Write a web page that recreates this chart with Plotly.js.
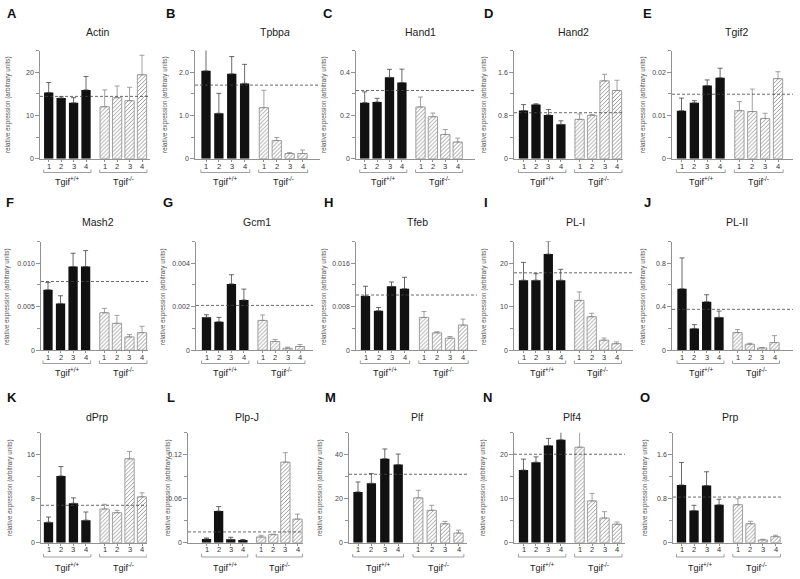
<!DOCTYPE html>
<html><head><meta charset="utf-8">
<script src="https://cdn.plot.ly/plotly-3.0.1.min.js"></script>
<style>body{margin:0;background:#fff}#chart{width:800px;height:579px}</style>
</head><body><div id="chart"></div>
<script>
// ---------- DATA ----------
const letters = ['A','B','C','D','E','F','G','H','I','J','K','L','M','N','O'];
const genes = ['Actin','Tpbp<i>a</i>','Hand1','Hand2','Tgif2','Mash2','Gcm1','Tfeb','PL-I','PL-II','dPrp','Plp-J','Plf','Plf4','Prp'];
const barLabels = ['1','2','3','4','1','2','3','4'];
const groupLabels = ['Tgif<sup>+/+</sup>','Tgif<sup>-/-</sup>'];
const yTitle = 'relative expression (arbitrary units)';

const wtMean = [
  [15.3,14.0,12.9,15.9],[2.03,1.05,1.96,1.74],[0.259,0.262,0.376,0.352],[0.89,1.0,0.81,0.635],[0.0111,0.0129,0.0169,0.0187],
  [0.00695,0.00538,0.00962,0.00962],[0.00151,0.00131,0.00305,0.00231],[0.00997,0.00726,0.01175,0.01132],[16.1,16.1,22.1,16.1],[0.565,0.2,0.446,0.302],
  [3.74,12.14,7.17,4.1],[0.0051,0.0432,0.0046,0.0037],[23.1,27.0,38.2,35.5],[16.5,18.3,22.1,23.4],[1.05,0.585,1.04,0.69]
];
const wtErr = [
  [2.3,0.3,1.2,3.1],[0.6,0.46,0.4,0.44],[0.05,0.017,0.037,0.062],[0.11,0.015,0.1,0.065],[0.0029,0.0005,0.0013,0.0022],
  [0.00084,0.00088,0.00153,0.00183],[0.00012,0.0002,0.00042,0.0005],[0.0018,0.0006,0.0008,0.0021],[4.1,1.5,2.9,2.5],[0.284,0.035,0.064,0.058],
  [0.92,1.7,0.98,1.48],[0.0013,0.006,0.0028,0.0005],[4.5,4.4,4.4,4.8],[2.5,1.2,1.6,2.2],[0.41,0.095,0.25,0.1]
];
const koMean = [
  [12.0,14.1,13.4,19.4],[1.18,0.42,0.12,0.12],[0.239,0.194,0.112,0.077],[0.727,0.8,1.44,1.26],[0.0111,0.0109,0.0093,0.0185],
  [0.00431,0.00309,0.00153,0.00202],[0.00137,0.0004,0.00009,0.00017],[0.00603,0.0032,0.00222,0.00462],[11.45,7.7,2.3,1.5],[0.162,0.055,0.021,0.07],
  [6.13,5.46,15.26,8.34],[0.0078,0.011,0.1099,0.0322],[20.4,14.7,8.6,4.4],[21.7,9.5,5.6,4.2],[0.69,0.345,0.05,0.11]
];
const koErr = [
  [3.9,2.7,3.1,4.5],[0.4,0.07,0.02,0.08],[0.046,0.017,0.023,0.018],[0.1,0.015,0.12,0.19],[0.0021,0.0052,0.0012,0.0016],
  [0.0005,0.00092,0.00026,0.00073],[0.00025,0.00009,0.00005,0.00009],[0.0011,0.0002,0.0003,0.0011],[1.95,0.8,0.5,0.4],[0.028,0.009,0.004,0.064],
  [0.86,0.43,1.34,0.73],[0.0023,0.0006,0.0128,0.0068],[3.4,2.3,1.1,1.3],[5.0,1.7,1.45,0.5],[0.11,0.045,0.012,0.025]
];
const refLevel = [14.4,1.70,0.315,0.85,0.0149, 0.0079,0.00206,0.01015,17.8,0.376, 6.8,0.0147,31.1,20.1,0.83];
const yMax = [25,2.5,0.5,2.0,0.025, 0.0125,0.005,0.02,25,1.0, 20,0.15,50,25,2.0];
const yTickVals = [
  [0,10,20],[0,1,2],[0,0.2,0.4],[0,0.8,1.6],[0,0.01,0.02],
  [0,0.005,0.010],[0,0.002,0.004],[0,0.008,0.016],[0,10,20],[0,0.4,0.8],
  [0,8,16],[0,0.06,0.12],[0,20,40],[0,10,20],[0,0.8,1.6]
];
const yTickText = [
  ['0','10','20'],['0','1.0','2.0'],['0','0.2','0.4'],['0','0.8','1.6'],['0','0.01','0.02'],
  ['0','0.005','0.010'],['0','0.002','0.004'],['0','0.008','0.016'],['0','10','20'],['0','0.4','0.8'],
  ['0','8','16'],['0','0.06','0.12'],['0','20','40'],['0','10','20'],['0','0.8','1.6']
];

// ---------- LAYOUT GEOMETRY (pixels) ----------
const W = 800, H = 579;
const FONT = 'Liberation Sans, Arial, Helvetica, sans-serif';
const wtPos = [0,1,2,3], koPos = [4.5,5.5,6.5,7.5];
const allPos = wtPos.concat(koPos);
const rowGeo = [
  {top:50.5, zero:158.7, letterY:13, titleY:32, tickY:166.5, bracketY:172.5, groupY:180.5, ytY:105},
  {top:241.5, zero:350.2, letterY:203, titleY:222, tickY:357.5, bracketY:363.5, groupY:372, ytY:297},
  {top:432.7, zero:542.7, letterY:398, titleY:417, tickY:549.8, bracketY:557, groupY:567, ytY:488}
];
// [axisLeft, bar1 centre, bar8 centre, axisRight, letterX, titleX, yTitleX]
const colGeo = [
  [40,48.7,142,150,12,98,8],[195,206,302.5,320,170,275,165],[356,364.7,457.7,475,328,420,324],[514,523.5,617,623,488,573,484],[672,681.5,778,793,647,737,643],
  [41,48,142,148,10,98,7],[196,206.5,300,313,168,257,163],[356,365.5,463,477,328,417,324],[514,523.5,616.5,633,486,575,484],[672,682,774.5,793,647,737,643],
  [41,48.5,142,147,12,97,10],[188,206.5,297.5,303,171,247,168],[349,358,458.5,467,330,417,320],[514,523.5,617,625,487,572,483],[673,681.5,775.5,782,645,730,645]
];

const data = [], shapes = [], annotations = [];
const layout = {
  width: W, height: H, margin: {l:0,r:0,t:0,b:0},
  paper_bgcolor: '#fff', plot_bgcolor: 'rgba(0,0,0,0)',
  showlegend: false, barmode: 'overlay', font: {family: FONT, color: '#333'},
  shapes: shapes, annotations: annotations
};
const px2y = py => (H - py) / H;

for (let p = 0; p < 15; p++) {
  const n = p + 1;
  const xs = n === 1 ? 'x' : 'x' + n, ys = n === 1 ? 'y' : 'y' + n;
  const xa = n === 1 ? 'xaxis' : 'xaxis' + n, ya = n === 1 ? 'yaxis' : 'yaxis' + n;
  const row = rowGeo[Math.floor(p / 5)];
  const [xL, c1, c8, xR, lx, tx, yx] = colGeo[p];
  const u = (c8 - c1) / 7.5;
  const lo = -(c1 - xL) / u, hi = 7.5 + (xR - c8) / u;
  const bw = 9.3 / u;

  data.push({
    type: 'bar', x: wtPos, y: wtMean[p], xaxis: xs, yaxis: ys, width: bw,
    marker: {color: '#111', line: {width: 0}}, cliponaxis: false, hoverinfo: 'skip',
    error_y: {type: 'data', array: wtErr[p], arrayminus: [0,0,0,0], symmetric: false, color: '#444', thickness: 0.8, width: 2.5}
  });
  data.push({
    type: 'bar', x: koPos, y: koMean[p], xaxis: xs, yaxis: ys, width: bw,
    marker: {color: '#fff', line: {color: '#8a8a8a', width: 0.8},
      pattern: {shape: '/', fgcolor: '#9a9a9a', bgcolor: '#fff', size: 2.8, solidity: 0.35}},
    cliponaxis: false, hoverinfo: 'skip',
    error_y: {type: 'data', array: koErr[p], arrayminus: [0,0,0,0], symmetric: false, color: '#8a8a8a', thickness: 0.8, width: 2.5}
  });

  const step = yTickVals[p][1];
  const minor = [];
  for (let k = 1; k * step / 2 <= yMax[p] * 1.0001; k += 2) minor.push(k * step / 2);

  layout[xa] = {
    domain: [xL / W, xR / W], range: [lo, hi], anchor: ys,
    showline: true, linecolor: '#777', linewidth: 0.8, ticks: 'outside', ticklen: 2, tickwidth: 0.8, tickcolor: '#777',
    tickmode: 'array', tickvals: allPos, showticklabels: false,
    showgrid: false, zeroline: false, fixedrange: true
  };
  layout[ya] = {
    domain: [px2y(row.zero), px2y(row.top)], range: [0, yMax[p]], anchor: xs,
    showline: true, linecolor: '#777', linewidth: 0.8, ticks: 'outside', ticklen: 4, tickwidth: 0.8, tickcolor: '#777',
    tickmode: 'array', tickvals: yTickVals[p], ticktext: yTickText[p],
    tickfont: {size: 7, color: '#444', family: FONT}, showgrid: false, zeroline: false, fixedrange: true,
    minor: {tickmode: 'array', tickvals: minor, ticks: 'outside', ticklen: 3, tickwidth: 0.8, tickcolor: '#777', showgrid: false}
  };

  // bar number labels under each bar
  allPos.forEach((xv, k) => {
    annotations.push({xref: xs, yref: 'paper', x: xv, y: px2y(row.tickY), text: barLabels[k], showarrow: false,
      xanchor: 'center', yanchor: 'middle', font: {size: 7.5, color: '#333', family: FONT}});
  });

  // dashed reference line
  shapes.push({type: 'line', xref: xs + ' domain', yref: ys, x0: 0, x1: 1, y0: refLevel[p], y1: refLevel[p],
    line: {color: '#444', width: 0.8, dash: '3px,2px'}});

  // group brackets
  const yb = px2y(row.bracketY), yt = px2y(row.bracketY - 3);
  [[-0.4, 3.4], [4.1, 7.9]].forEach(([a, b]) => {
    shapes.push({type: 'path', xref: xs, yref: 'paper',
      path: `M${a},${yt} L${a},${yb} L${b},${yb} L${b},${yt}`, line: {color: '#888', width: 0.8}});
  });
  [1.5, 6].forEach((cx, g) => {
    annotations.push({xref: xs, yref: 'paper', x: cx, y: px2y(row.groupY), text: groupLabels[g], showarrow: false,
      xanchor: 'center', yanchor: 'middle', font: {size: 9, color: '#222', family: FONT}});
  });

  // panel letter, title, y title
  annotations.push({xref: 'paper', yref: 'paper', x: lx / W, y: px2y(row.letterY), text: '<b>' + letters[p] + '</b>',
    showarrow: false, xanchor: 'center', yanchor: 'middle', font: {size: 13, color: '#111', family: FONT}});
  annotations.push({xref: 'paper', yref: 'paper', x: tx / W, y: px2y(row.titleY), text: genes[p],
    showarrow: false, xanchor: 'center', yanchor: 'middle', font: {size: 10.5, color: '#222', family: FONT}});
  annotations.push({xref: 'paper', yref: 'paper', x: yx / W, y: px2y(row.ytY), text: yTitle, textangle: -90,
    showarrow: false, xanchor: 'center', yanchor: 'middle', font: {size: 6.3, color: '#555', family: FONT}});
}

Plotly.newPlot('chart', data, layout, {staticPlot: true, displayModeBar: false});
</script>
</body></html>
